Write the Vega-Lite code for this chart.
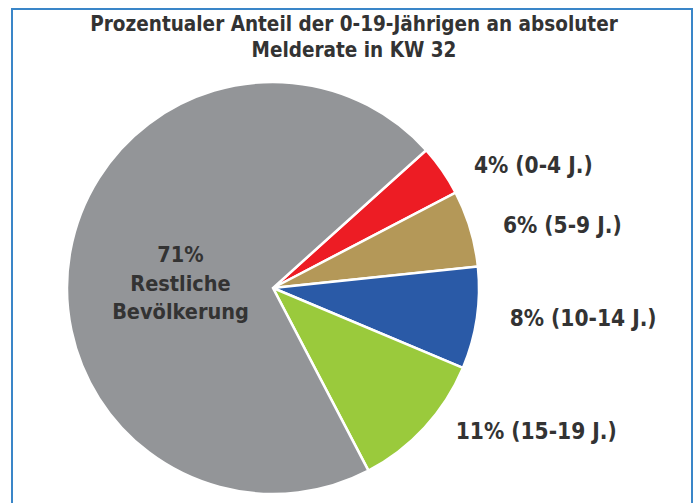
{
  "$schema": "https://vega.github.io/schema/vega-lite/v6.json",
  "padding": {"left": 12, "top": 9, "right": 2, "bottom": 0},
  "background": "white",
  "width": 680,
  "height": 560,
  "config": {"view": {"stroke": "#3a86c8", "strokeWidth": 2}, "font": "DejaVu Sans Condensed"},
  "title": {
    "text": ["Prozentualer Anteil der 0-19-Jährigen an absoluter", "Melderate in KW 32"],
    "offset": -52,
    "dx": 2,
    "fontSize": 20.5,
    "fontWeight": "bold",
    "color": "#333333",
    "anchor": "middle",
    "lineHeight": 26,
    "font": "DejaVu Sans Condensed"
  },
  "data": {
    "values": [
      {"group": "0-4 J.", "pct": 4, "rank": 1, "label": "4% (0-4 J.)", "inner": ""},
      {"group": "5-9 J.", "pct": 6, "rank": 2, "label": "6% (5-9 J.)", "inner": ""},
      {"group": "10-14 J.", "pct": 8, "rank": 3, "label": "8% (10-14 J.)", "inner": ""},
      {"group": "15-19 J.", "pct": 11, "rank": 4, "label": "11% (15-19 J.)", "inner": ""},
      {"group": "Restliche Bevölkerung", "pct": 71, "rank": 5, "label": "", "inner": "71%\nRestliche\nBevölkerung"}
    ]
  },
  "encoding": {
    "theta": {"field": "pct", "type": "quantitative", "stack": true, "scale": {"range": [0.838, 7.1212]}},
    "order": {"field": "rank", "type": "quantitative"},
    "x": {"value": 261},
    "y": {"value": 279},
    "color": {
      "field": "group",
      "type": "nominal",
      "scale": {
        "domain": ["0-4 J.", "5-9 J.", "10-14 J.", "15-19 J.", "Restliche Bevölkerung"],
        "range": ["#ed1c24", "#b49858", "#2a5aa7", "#9aca3c", "#939598"]
      },
      "legend": null
    }
  },
  "layer": [
    {"mark": {"type": "arc", "outerRadius": 206, "stroke": "white", "strokeWidth": 2.5}},
    {
      "mark": {"type": "text", "radius": 213, "dx": 26, "align": "left", "baseline": "middle", "fontSize": 22.5, "fontWeight": "bold"},
      "encoding": {"text": {"field": "label"}, "color": {"value": "#333333"}}
    },
    {
      "mark": {"type": "text", "radius": 94, "dy": -15, "align": "center", "baseline": "middle", "fontSize": 21.5, "fontWeight": "bold", "lineBreak": "\n", "lineHeight": 28.5},
      "encoding": {"text": {"field": "inner"}, "color": {"value": "#333333"}}
    }
  ]
}
